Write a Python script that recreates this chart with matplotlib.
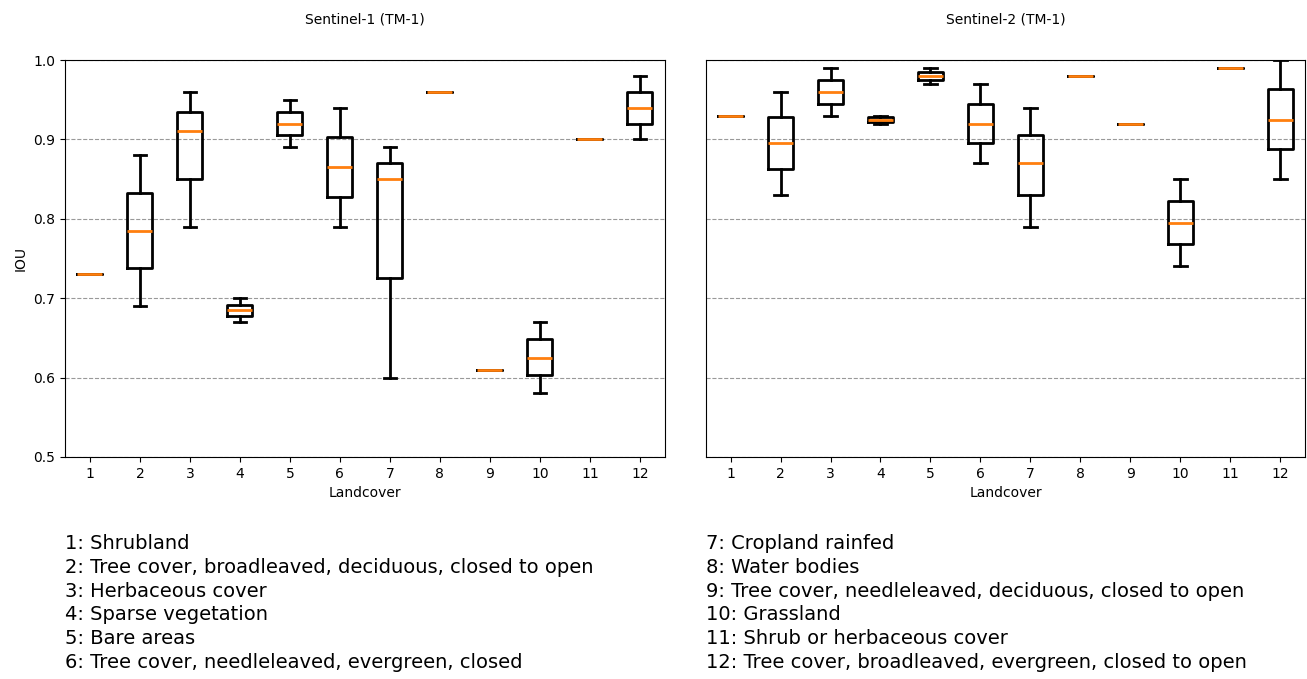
import matplotlib.pyplot as plt

klassen = list(range(1, 13))

# Sentinel-1: min, q1, median, q3, max pro Klasse
s1_min = [0.73, 0.69, 0.79, 0.67, 0.89, 0.79, 0.60, 0.96, 0.61, 0.58, 0.90, 0.90]
s1_q1 = [0.73, 0.738, 0.85, 0.678, 0.905, 0.828, 0.725, 0.96, 0.61, 0.603, 0.90, 0.92]
s1_med = [0.73, 0.785, 0.91, 0.685, 0.92, 0.865, 0.85, 0.96, 0.61, 0.625, 0.90, 0.94]
s1_q3 = [0.73, 0.833, 0.935, 0.692, 0.935, 0.903, 0.87, 0.96, 0.61, 0.648, 0.90, 0.96]
s1_max = [0.73, 0.88, 0.96, 0.70, 0.95, 0.94, 0.89, 0.96, 0.61, 0.67, 0.90, 0.98]

# Sentinel-2
s2_min = [0.93, 0.83, 0.93, 0.92, 0.97, 0.87, 0.79, 0.98, 0.92, 0.74, 0.99, 0.85]
s2_q1 = [0.93, 0.863, 0.945, 0.922, 0.975, 0.895, 0.83, 0.98, 0.92, 0.768, 0.99, 0.888]
s2_med = [0.93, 0.895, 0.96, 0.925, 0.98, 0.92, 0.87, 0.98, 0.92, 0.795, 0.99, 0.925]
s2_q3 = [0.93, 0.928, 0.975, 0.928, 0.985, 0.945, 0.905, 0.98, 0.92, 0.823, 0.99, 0.963]
s2_max = [0.93, 0.96, 0.99, 0.93, 0.99, 0.97, 0.94, 0.98, 0.92, 0.85, 0.99, 1.00]

namen = [
    "Shrubland",
    "Tree cover, broadleaved, deciduous, closed to open",
    "Herbaceous cover",
    "Sparse vegetation",
    "Bare areas",
    "Tree cover, needleleaved, evergreen, closed",
    "Cropland rainfed",
    "Water bodies",
    "Tree cover, needleleaved, deciduous, closed to open",
    "Grassland",
    "Shrub or herbaceous cover",
    "Tree cover, broadleaved, evergreen, closed to open",
]


def stats(mins, q1s, meds, q3s, maxs):
    return [dict(whislo=a, q1=b, med=c, q3=d, whishi=e, fliers=[])
            for a, b, c, d, e in zip(mins, q1s, meds, q3s, maxs)]


fig = plt.figure(figsize=(13.07, 6.79), dpi=100)
ax1 = fig.add_axes([0.0497, 0.327, 0.459, 0.5846])
ax2 = fig.add_axes([0.5398, 0.327, 0.459, 0.5846], sharey=ax1)

lw = 2
for ax, st, titel in [(ax1, stats(s1_min, s1_q1, s1_med, s1_q3, s1_max), "Sentinel-1 (TM-1)"),
                      (ax2, stats(s2_min, s2_q1, s2_med, s2_q3, s2_max), "Sentinel-2 (TM-1)")]:
    ax.bxp(st, positions=klassen, widths=0.5, showfliers=False,
           boxprops=dict(linewidth=lw, color='black'),
           whiskerprops=dict(linewidth=lw, color='black'),
           capprops=dict(linewidth=lw, color='black'),
           medianprops=dict(linewidth=lw, color='#ff7f0e'))
    ax.set_title(titel, fontsize=10, pad=26)
    ax.set_xlabel('Landcover')
    ax.set_xticks(klassen)
    ax.set_xticklabels([str(k) for k in klassen])
    ax.set_xlim(0.5, 12.5)
    ax.yaxis.grid(True, linestyle='--', color='gray', alpha=0.8)
    ax.set_axisbelow(True)

ax1.set_ylim(0.5, 1.0)
ax1.set_yticks([0.5, 0.6, 0.7, 0.8, 0.9, 1.0])
ax1.set_ylabel('IOU')
ax2.tick_params(axis='y', left=False, labelleft=False)

links = "\n".join(f"{k}: {n}" for k, n in zip(klassen[:6], namen[:6]))
rechts = "\n".join(f"{k}: {n}" for k, n in zip(klassen[6:], namen[6:]))
fig.text(0.0497, 1 - 534 / 679, links, fontsize=14, va='top', ha='left', linespacing=1.32)
fig.text(0.5398, 1 - 534 / 679, rechts, fontsize=14, va='top', ha='left', linespacing=1.32)

fig.savefig('out.png', dpi=100)
